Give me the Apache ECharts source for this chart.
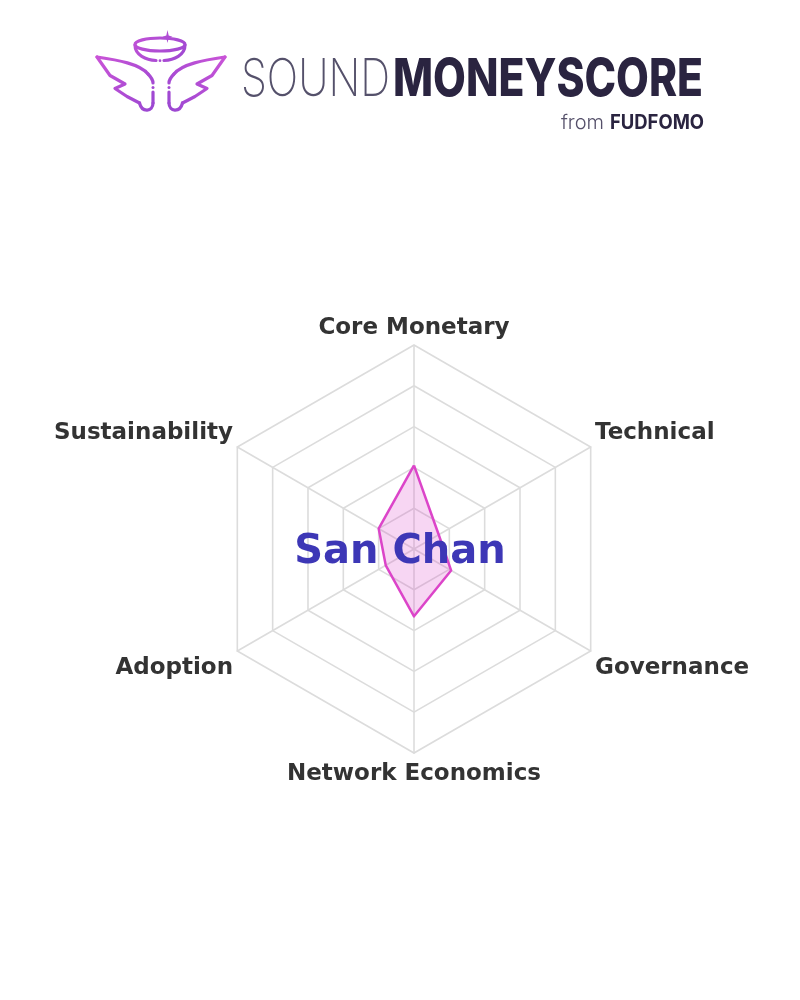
<!DOCTYPE html>
<html>
<head>
<meta charset="utf-8">
<script src="https://cdn.jsdelivr.net/npm/echarts@6/dist/echarts.min.js"></script>
<style>
  html, body { margin: 0; padding: 0; background: #ffffff; }
  #chart { width: 800px; height: 1000px; }
</style>
</head>
<body>
<div id="chart"></div>
<script>
// ---- data ----
const categories = ['Core Monetary', 'Sustainability', 'Adoption', 'Network Economics', 'Governance', 'Technical'];
const maxValues = [10, 10, 10, 10, 10, 10];
const scores = [4.1, 2.0, 1.6, 3.3, 2.1, 1.4];
const entityName = 'San Chan';
const brandLight = 'SOUND';
const brandBold = 'MONEYSCORE';
const byLine = 'from';
const byBrand = 'FUDFOMO';

// label vertical nudges (style keys)
const labelStyleKey = { 'Technical': 'up', 'Sustainability': 'up', 'Governance': 'down', 'Adoption': 'down', 'Network Economics': 'bot' };

function textWidth(txt, font) {
  const c = document.createElement('canvas').getContext('2d');
  c.font = font;
  return c.measureText(txt).width;
}

const chart = echarts.init(document.getElementById('chart'), null, { renderer: 'canvas' });

const logoGrad = {
  type: 'linear', global: true, x: 100, y: 30, x2: 200, y2: 112,
  colorStops: [{ offset: 0, color: '#d256d8' }, { offset: 1, color: '#8441cf' }]
};
const stroke = { stroke: logoGrad, lineWidth: 3.2, fill: null, lineCap: 'round', lineJoin: 'round' };

function bez(x1, y1, cx1, cy1, cx2, cy2, x2, y2) {
  return { type: 'bezierCurve', shape: { x1: x1, y1: y1, cpx1: cx1, cpy1: cy1, cpx2: cx2, cpy2: cy2, x2: x2, y2: y2 }, style: stroke };
}

function wingChildren() {
  return [
    bez(97, 57, 118, 60, 140, 64, 148, 74),
    bez(148, 74, 152, 78, 153, 80, 153, 83),
    { type: 'circle', shape: { cx: 153, cy: 87.5, r: 1.5 }, style: { fill: logoGrad } },
    { type: 'line', shape: { x1: 153, y1: 92, x2: 153, y2: 103 }, style: stroke },
    bez(153, 103, 153, 112, 142, 113, 139.5, 103),
    { type: 'polyline', shape: { points: [[139.5, 103], [127, 96.5], [115, 88.5], [125, 84], [110, 75.5], [97, 57]] }, style: stroke }
  ];
}

const fontLight = '200 52px Inter';
const fontBold = '800 52px Inter';
const wLight = textWidth(brandLight, fontLight);
const wBold = textWidth(brandBold, fontBold);
const fontBy = '300 20px Inter';
const fontByB = '700 20px Inter';

const graphics = [
  // halo
  { type: 'ellipse', shape: { cx: 160, cy: 44.5, rx: 25, ry: 6.5 }, style: stroke },
  bez(135, 45, 135, 55, 146, 60, 156, 60.5),
  bez(164, 60.5, 174, 60, 185, 55, 185, 45),
  { type: 'circle', shape: { cx: 160, cy: 60.7, r: 1.4 }, style: { fill: logoGrad } },
  { type: 'polygon', shape: { points: [[167.5, 30], [168.7, 35.5], [172.5, 36.7], [168.7, 37.9], [167.5, 43], [166.3, 37.9], [162.5, 36.7], [166.3, 35.5]] }, style: { fill: logoGrad } },
  // wings
  { type: 'group', children: wingChildren() },
  { type: 'group', x: 322, scaleX: -1, children: wingChildren() },
  // brand text
  { type: 'text', x: 241, y: 80, scaleX: 149 / wLight,
    style: { text: brandLight, font: fontLight, fill: '#55516b', align: 'left', verticalAlign: 'middle' } },
  { type: 'text', x: 393, y: 80, scaleX: 310 / wBold,
    style: { text: brandBold, font: fontBold, fill: '#2a2440', align: 'left', verticalAlign: 'middle' } },
  { type: 'text', x: 604, y: 123,
    style: { text: byLine, font: fontBy, fill: '#55506a', align: 'right', verticalAlign: 'middle' } },
  { type: 'text', x: 610, y: 123, scaleX: 94 / textWidth(byBrand, fontByB),
    style: { text: byBrand, font: fontByB, fill: '#2a2440', align: 'left', verticalAlign: 'middle' } },
  // entity name
  { type: 'text', left: 'center', top: 533, z: 10,
    style: { text: entityName, font: 'bold 40px "DejaVu Sans"', fill: '#3d37b6' } }
];

const nameStyle = { color: '#333333', fontSize: 23, fontWeight: 'bold', fontFamily: 'DejaVu Sans' };

const option = {
  backgroundColor: '#ffffff',
  animation: false,
  radar: {
    center: [414, 549],
    radius: 204,
    startAngle: 90,
    splitNumber: 5,
    shape: 'polygon',
    nameGap: 5,
    indicator: categories.map((c, i) => ({ name: c, max: maxValues[i], min: 0 })),
    axisName: Object.assign({}, nameStyle, {
      formatter: (name) => '{' + (labelStyleKey[name] || 'n') + '|' + name + '}',
      rich: {
        n: Object.assign({}, nameStyle),
        bot: Object.assign({}, nameStyle, { padding: [5, 0, 0, 0] }),
        up: Object.assign({}, nameStyle, { padding: [0, 0, 23, 0] }),
        down: Object.assign({}, nameStyle, { padding: [29, 0, 0, 0] })
      }
    }),
    splitLine: { lineStyle: { color: '#dcdcdc', width: 1.6 } },
    splitArea: { show: false },
    axisLine: { lineStyle: { color: '#dcdcdc', width: 1.6 } },
    axisTick: { show: false },
    axisLabel: { show: false }
  },
  series: [{
    type: 'radar',
    symbol: 'none',
    z: 1,
    lineStyle: { color: '#dc45c9', width: 2.5 },
    areaStyle: { color: '#dc45c9', opacity: 0.22 },
    data: [{ value: scores, name: entityName }]
  }],
  graphic: graphics
};

chart.setOption(option);
</script>
</body>
</html>
